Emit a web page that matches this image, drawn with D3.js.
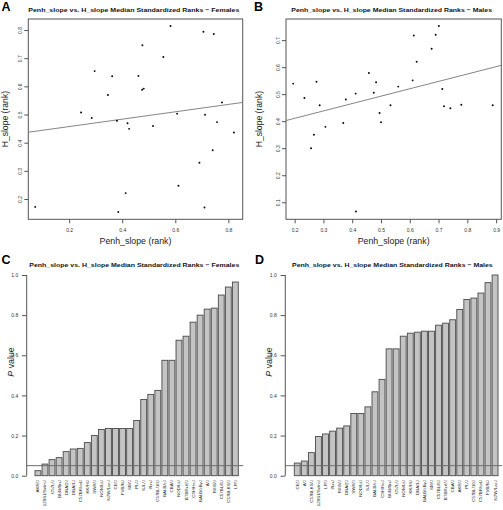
<!DOCTYPE html>
<html><head><meta charset="utf-8">
<script src="https://cdn.jsdelivr.net/npm/d3@7"></script>
<style>body{margin:0;background:#fff}svg{display:block}text{font-family:"Liberation Sans",Arial,sans-serif}</style>
</head><body>
<svg id="c" width="503" height="510"></svg>
<script>
// ---------- DATA ----------
const femPenh = [0.072,0.245,0.285,0.296,0.346,0.362,0.380,0.385,0.413,0.420,0.426,0.461,0.476,0.475,0.481,0.516,0.555,0.582,0.607,0.612,0.691,0.706,0.710,0.712,0.741,0.745,0.757,0.776,0.821];
const femH    = [0.172,0.507,0.488,0.654,0.569,0.636,0.478,0.154,0.221,0.469,0.449,0.637,0.746,0.588,0.592,0.459,0.704,0.814,0.503,0.247,0.329,0.794,0.170,0.499,0.373,0.786,0.473,0.543,0.436];
const femFit  = [0.431, 0.131]; // intercept, slope

const malePenh = [0.195,0.234,0.257,0.267,0.276,0.287,0.307,0.369,0.378,0.412,0.413,0.458,0.475,0.483,0.495,0.500,0.533,0.560,0.610,0.614,0.624,0.676,0.690,0.701,0.713,0.719,0.741,0.779,0.888];
const maleH    = [0.539,0.486,0.300,0.350,0.546,0.459,0.379,0.393,0.480,0.502,0.066,0.578,0.505,0.544,0.430,0.396,0.459,0.528,0.551,0.717,0.620,0.668,0.720,0.752,0.519,0.455,0.448,0.461,0.459];
const maleFit  = [0.356, 0.273];

const femStrains = ["AKR/J","129S1/SvImJ","C57L/J","BUB/BnJ","DBA/2J","DBA/1J","C57BR/cdJ","KK/HlJ","SWR/J","NON/LtJ","NZW/LacJ","CE/J","FVB/NJ","SM/J","PL/J","SJL/J","I/LnJ","C57BL/10J","BALB/cJ","CBA/J","NOD/LtJ","BTBR+tf/J","C3H/HeJ","BALB/cByJ","A/J","RIIIS/J","C57BL/6J","C57BLKS/J","LP/J"];
const femP = [0.025,0.058,0.080,0.090,0.120,0.133,0.136,0.165,0.200,0.230,0.235,0.235,0.235,0.235,0.275,0.380,0.405,0.425,0.575,0.575,0.675,0.695,0.765,0.800,0.830,0.835,0.900,0.940,0.965];

const maleStrains = ["CE/J","A/J","C57BLKS/J","129S1/SvImJ","LP/J","I/LnJ","RIIIS/J","DBA/2J","SWR/J","NOD/LtJ","SJL/J","BALB/cJ","C3H/HeJ","BUB/BnJ","C57L/J","NON/LtJ","KK/HlJ","DBA/1J","BALB/cByJ","SM/J","C57BL/6J","BTBR+tf/J","CBA/J","AKR/J","PL/J","C57BL/10J","C57BR/cdJ","FVB/NJ","NZW/LacJ"];
const maleP = [0.063,0.073,0.115,0.195,0.208,0.222,0.237,0.248,0.310,0.310,0.343,0.418,0.480,0.632,0.632,0.695,0.710,0.715,0.720,0.720,0.750,0.760,0.777,0.828,0.878,0.885,0.910,0.962,1.000];

const scatterXTicksF = [0.2,0.4,0.6,0.8];
const scatterYTicksF = [0.2,0.3,0.4,0.5,0.6,0.7,0.8];
const scatterXTicksM = [0.2,0.3,0.4,0.5,0.6,0.7,0.8,0.9];
const scatterYTicksM = [0.1,0.2,0.3,0.4,0.5,0.6,0.7];
const pTicks = [0.0,0.2,0.4,0.6,0.8,1.0];
const sigLevel = 0.05;

// ---------- DRAW ----------
const svg = d3.select("#c");
const AX = "#555";

function title(x0, x1, y, txt){
  svg.append("text").attr("x",(x0+x1)/2).attr("y",y).attr("text-anchor","middle")
    .attr("font-size",6).attr("font-weight","bold").attr("fill","#111")
    .attr("textLength",x1-x0).attr("lengthAdjust","spacingAndGlyphs").text(txt);
}
function letter(x,y,t){
  svg.append("text").attr("x",x).attr("y",y).attr("font-size",12.5).attr("font-weight","bold").attr("fill","#000").text(t);
}

function scatter(o){
  const x = d3.scaleLinear().domain(o.xd).range([o.l,o.r]);
  const y = d3.scaleLinear().domain(o.yd).range([o.b,o.t]);
  const g = svg.append("g");
  g.append("rect").attr("x",o.l).attr("y",o.t).attr("width",o.r-o.l).attr("height",o.b-o.t)
    .attr("fill","none").attr("stroke",AX).attr("stroke-width",1);
  const xa = d3.axisBottom(x).tickValues(o.xt).tickSize(4).tickFormat(d3.format(".1f"));
  const gx = g.append("g").attr("transform",`translate(0,${o.b})`).call(xa);
  gx.select(".domain").remove();
  gx.selectAll("line").attr("stroke",AX);
  gx.selectAll("text").attr("font-size",5).attr("fill","#333").attr("dy","0").attr("y",12.5);
  const ya = d3.axisLeft(y).tickValues(o.yt).tickSize(4).tickFormat(d3.format(".1f"));
  const gy = g.append("g").attr("transform",`translate(${o.l},0)`).call(ya);
  gy.select(".domain").remove();
  gy.selectAll("line").attr("stroke",AX);
  gy.selectAll("text").attr("font-size",5).attr("fill","#333").attr("x",0).attr("dy",0)
    .attr("text-anchor","middle").attr("transform","translate(-6.5,0) rotate(-90)");
  // regression line
  const [a,bb] = o.fit;
  g.append("line").attr("x1",x(o.xd[0])).attr("y1",y(a+bb*o.xd[0]))
    .attr("x2",x(o.xd[1])).attr("y2",y(a+bb*o.xd[1])).attr("stroke","#777").attr("stroke-width",0.9);
  g.selectAll("circle.p").data(o.xs.map((v,i)=>[v,o.ys[i]])).enter().append("circle")
    .attr("cx",d=>x(d[0])).attr("cy",d=>y(d[1])).attr("r",0.95).attr("fill","#000");
  g.append("text").attr("x",(o.l+o.r)/2).attr("y",243.5).attr("text-anchor","middle")
    .attr("font-size",8.8).attr("fill","#222").text("Penh_slope (rank)");
  g.append("text").attr("transform",`translate(${o.yl},${(o.t+o.b)/2}) rotate(-90)`).attr("text-anchor","middle")
    .attr("font-size",8.6).attr("fill","#222").text("H_slope (rank)");
}

function bars(o){
  const x = d3.scaleBand().domain(o.names).range([o.b0,o.b1]).paddingInner(1/6).paddingOuter(0);
  const y = d3.scaleLinear().domain([0,1]).range([475.7,275]);
  const g = svg.append("g");
  const ya = d3.axisLeft(y).tickValues(pTicks).tickSize(4.7).tickFormat(d3.format(".1f"));
  const gy = g.append("g").attr("transform",`translate(${o.ax},0)`).call(ya);
  gy.select(".domain").attr("stroke",AX).attr("d",`M0,${y(0)}V${y(1)}`);
  gy.selectAll("line").attr("stroke",AX);
  gy.selectAll("text").attr("font-size",5).attr("fill","#333").attr("x",-8.5);
  g.selectAll("rect.b").data(o.vals).enter().append("rect")
    .attr("x",(d,i)=>x(o.names[i])).attr("y",d=>y(d)).attr("width",x.bandwidth())
    .attr("height",d=>y(0)-y(d)).attr("fill","#c4c4c4").attr("stroke","#4a4a4a").attr("stroke-width",0.9);
  g.append("line").attr("x1",o.ax).attr("x2",o.lineEnd).attr("y1",y(sigLevel)).attr("y2",y(sigLevel))
    .attr("stroke","#6e6e6e").attr("stroke-width",1);
  g.selectAll("text.lab").data(o.names).enter().append("text")
    .attr("transform",d=>`translate(${x(d)+x.bandwidth()/2+1.5},480) rotate(-90)`)
    .attr("text-anchor","end").attr("font-size",4.4).attr("fill","#222").text(d=>d);
  const pl = g.append("text").attr("transform",`translate(${o.pl},362) rotate(-90)`).attr("text-anchor","middle")
    .attr("font-size",8.8).attr("fill","#222");
  pl.append("tspan").attr("font-style","italic").text("P");
  pl.append("tspan").text(" value");
}

letter(1.5,11,"A");
title(28.3,239.3,12,"Penh_slope vs. H_slope Median Standardized Ranks \u2212 Females");
scatter({l:28.3,r:242.7,t:19,b:219.3,xd:[0.046,0.854],yd:[0.128,0.839],xt:scatterXTicksF,yt:scatterYTicksF,
  xs:femPenh,ys:femH,fit:femFit,yl:7.5});

letter(254,11,"B");
title(291.3,492,12,"Penh_slope vs. H_slope Median Standardized Ranks \u2212 Males");
scatter({l:286,r:501.3,t:19,b:219.3,xd:[0.170,0.918],yd:[0.037,0.778],xt:scatterXTicksM,yt:scatterYTicksM,
  xs:malePenh,ys:maleH,fit:maleFit,yl:262});

letter(1.5,264,"C");
title(29.3,239.3,267,"Penh_slope vs. H_slope Median Standardized Ranks \u2212 Females");
bars({names:femStrains,vals:femP,b0:35,b1:238.3,ax:26.7,lineEnd:243.3,pl:13.5});

letter(255,264,"D");
title(292,492.7,267,"Penh_slope vs. H_slope Median Standardized Ranks \u2212 Males");
bars({names:maleStrains,vals:maleP,b0:294.3,b1:498,ax:285.3,lineEnd:502,pl:272});
</script>
</body></html>
